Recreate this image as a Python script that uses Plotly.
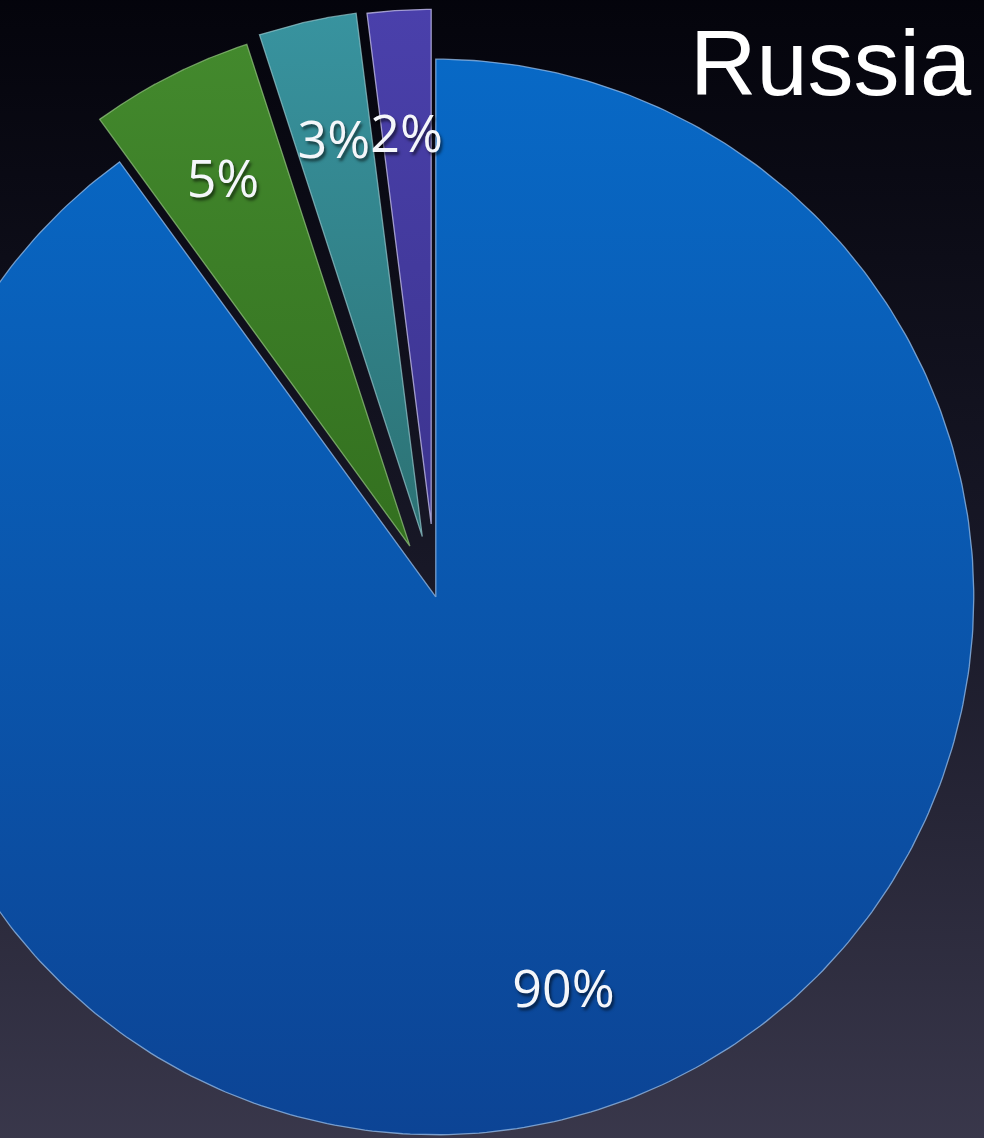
import numpy as np
import plotly.graph_objects as go

# ---- data ----
categories = ["A", "B", "C", "D"]
values = [90, 5, 3, 2]
labels = ["90%", "5%", "3%", "2%"]
title_text = "Russia"

# ---- style ----
top_colors = ["#0869c6", "#43892d", "#38939f", "#4a40ab"]
bottom_colors = ["#0c4495", "#33701f", "#2c7274", "#3c348f"]
edge_colors = ["rgba(150,190,235,0.75)", "rgba(150,200,130,0.7)",
               "rgba(150,200,205,0.7)", "rgba(190,185,230,0.8)"]
pulls = [0.0, 0.106, 0.115, 0.136]      # explode distance (radius units)
radii = [1.0, 0.981, 0.981, 0.957]
label_r = [0.768, 0.78, 0.768, 0.757]
label_dy = -0.0075

x_range = [-0.810, 1.019]
y_range = [-1.006, 1.110]

fig = go.Figure()

# background gradient
fig.add_trace(go.Scatter(
    x=[x_range[0] - 0.1, x_range[1] + 0.1, x_range[1] + 0.1, x_range[0] - 0.1, x_range[0] - 0.1],
    y=[y_range[0] - 0.1, y_range[0] - 0.1, y_range[1] + 0.1, y_range[1] + 0.1, y_range[0] - 0.1],
    mode="lines", fill="toself", line=dict(width=0),
    fillgradient=dict(type="vertical",
                      colorscale=[[0, "#3c3a4e"], [0.5, "#181827"], [1, "#020209"]]),
    hoverinfo="skip", showlegend=False))

total = float(sum(values))
start = 0.0
lab_x, lab_y = [], []
for i, v in enumerate(values):
    a0 = start
    a1 = start + v / total * 2 * np.pi
    start = a1
    mid = (a0 + a1) / 2
    cx = pulls[i] * np.sin(mid)
    cy = pulls[i] * np.cos(mid)
    th = np.linspace(a0, a1, 400)
    r = radii[i]
    xs = np.concatenate([[cx], cx + r * np.sin(th), [cx]])
    ys = np.concatenate([[cy], cy + r * np.cos(th), [cy]])
    fig.add_trace(go.Scatter(
        x=xs, y=ys, mode="lines", fill="toself",
        line=dict(color=edge_colors[i], width=1.3),
        fillgradient=dict(type="vertical",
                          colorscale=[[0, bottom_colors[i]], [1, top_colors[i]]]),
        name=categories[i], hoverinfo="skip", showlegend=False))
    lab_x.append(cx + label_r[i] * r * np.sin(mid))
    lab_y.append(cy + label_r[i] * r * np.cos(mid) + label_dy)

fig.add_trace(go.Scatter(
    x=lab_x, y=lab_y, mode="text", text=labels,
    textfont=dict(family="Open Sans", size=52, color="#f4f6fa",
                  shadow="2px 3px 3px rgba(0,0,0,0.55)"),
    hoverinfo="skip", showlegend=False))

fig.add_annotation(text=title_text, xref="paper", yref="paper",
                   x=0.990, y=0.945, xanchor="right", yanchor="middle",
                   showarrow=False,
                   font=dict(family="Liberation Sans", size=92, color="#ffffff"))

fig.update_layout(
    width=984, height=1138,
    margin=dict(l=0, r=0, t=0, b=0),
    paper_bgcolor="#111118", plot_bgcolor="rgba(0,0,0,0)",
    xaxis=dict(range=x_range, visible=False, fixedrange=True),
    yaxis=dict(range=y_range, visible=False, fixedrange=True),
    showlegend=False,
)

fig.write_html("out.html", config={"displayModeBar": False},
               post_script="document.body.style.margin='0px';document.body.style.overflow='hidden';")
